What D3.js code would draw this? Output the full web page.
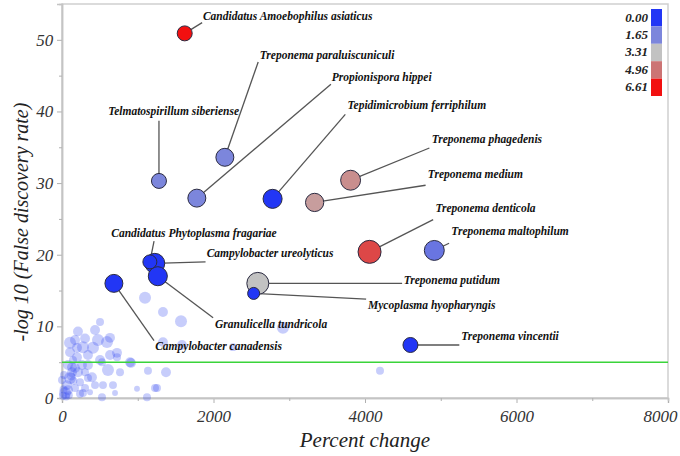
<!DOCTYPE html>
<html><head><meta charset="utf-8">
<script src="https://cdn.jsdelivr.net/npm/d3@7"></script>
<style>body{margin:0;background:#fff}svg{display:block}</style>
</head><body><svg id="c" width="680" height="456"></svg>
<script>
// ---- data ----
const names = ["Candidatus Amoebophilus asiaticus","Treponema paraluiscuniculi","Propionispora hippei","Telmatospirillum siberiense","Tepidimicrobium ferriphilum","Treponema phagedenis","Treponema medium","Treponema denticola","Treponema maltophilum","Candidatus Phytoplasma fragariae","Campylobacter ureolyticus","Granulicella tundricola","Campylobacter canadensis","Treponema putidum","Mycoplasma hyopharyngis","Treponema vincentii"];
const pctChange = [1620,2150,1780,1280,2780,3810,3335,4060,4915,1160,1225,1265,685,2585,2530,4600];
const negLogFdr = [50.9,33.6,27.9,30.3,27.8,30.4,27.3,20.4,20.6,19.0,18.8,17.0,16.0,16.0,14.6,7.4];
const colorVal = [6.61,1.65,1.65,1.65,0,4.4,4.1,5.7,1.3,0,0,0,0,3.31,0,0];
const sizeVal = [39,56,56,39,63,69,58,92,69,34,69,63,56,84,25,39];
// label anchor and leader end, in data units
const labelX = [1860,2610,3560,610,3770,4880,4830,4930,5140,650,1910,2020,1230,4510,4040,5270];
const labelY = [53.2,47.7,44.6,39.9,40.7,36.0,31.1,26.3,23.1,22.9,20.1,10.1,7.0,16.3,12.8,8.4];
const leadX = [1850,2590,3550,1280,3740,4850,4800,4900,5110,1215,1895,1995,1215,4490,4015,5245];
const leadY = [52.4,46.9,43.8,38.7,39.6,34.9,29.7,24.9,21.6,21.9,19.0,11.2,8.0,16.0,13.8,7.4];

// background (non-labelled) taxa
const bgX = [1096,1333,1571,502,211,106,277,409,594,634,726,1333,1584,2257,2917,911,607,1135,1373,1254,990,700,541,396,502,198,132,4198,436,343,673,1122,528,277,898,726,634,528,343,1228,172,475,343,766,
  40,66,106,132,172,26,79,172,238,211,264,304,145,106,13,238,304,370,436,79,0,198,304,55,90,150,20,120];
const bgY = [14.0,12.0,10.7,10.6,9.3,7.7,7.1,7.0,7.8,8.4,6.3,7.8,7.4,7.1,9.8,4.9,3.9,3.8,3.6,1.4,1.3,0.7,1.8,2.9,5.3,5.7,4.3,3.8,9.5,4.6,1.8,0.1,0.1,0.7,5.0,5.7,6.0,5.0,2.8,1.4,8.1,8.1,6.0,3.6,
  0.7,1.8,2.8,3.6,4.2,3.2,1.1,1.4,2.2,3.6,4.6,3.6,5.3,6.4,0.3,0.6,1.4,0.8,1.8,4.6,2.5,7.0,8.3,0.2,0.4,2.4,1.2,3.0];
const bgSize = [25,17,25,11,17,25,25,25,25,17,17,17,17,11,25,17,25,11,17,11,6,6,11,17,17,17,17,11,17,17,11,11,11,11,17,11,17,11,11,11,17,25,17,11,
  25,17,25,17,17,11,17,11,11,17,17,11,11,17,11,11,11,6,11,17,11,17,17,11,11,11,11,11];

const legendVals = [0.00,1.65,3.31,4.96,6.61];
const xTicks = [0,2000,4000,6000,8000];
const yTicks = [0,10,20,30,40,50];

// ---- chart ----
const svg = d3.select("#c");
const x = d3.scaleLinear().domain([0,8000]).range([62,668]);
const y = d3.scaleLinear().domain([0,55]).range([398,4]);
const r = d3.scaleSqrt().domain([0,100]).range([0,12]);
const col = d3.scaleLinear().domain(legendVals).range(["#2236f5","#7c86dc","#c2c2c2","#cc7474","#f21010"]);
const serif = "'Liberation Serif','Times New Roman',serif";

// frame
svg.append("rect").attr("x",62).attr("y",4).attr("width",606).attr("height",394)
  .attr("fill","none").attr("stroke","#cfcfcf").attr("stroke-width",1.5);

// axes
const xa = svg.append("g").attr("transform","translate(0,398)")
  .call(d3.axisBottom(x).tickValues(xTicks).tickSize(5).tickFormat(d3.format("d")));
const ya = svg.append("g").attr("transform","translate(62,0)")
  .call(d3.axisLeft(y).tickValues(yTicks).tickSize(5).tickFormat(d3.format("d")));
// minor ticks
svg.append("g").attr("transform","translate(0,398)")
  .call(d3.axisBottom(x).tickValues([1000,3000,5000,7000]).tickSize(3).tickFormat(""));
svg.append("g").attr("transform","translate(62,0)")
  .call(d3.axisLeft(y).tickValues([5,15,25,35,45]).tickSize(3).tickFormat(""));
svg.selectAll(".domain").attr("stroke","#c4c4c4").attr("stroke-width",1.5);
svg.selectAll(".tick line").attr("stroke","#b0b0b0");
xa.selectAll("text").attr("font-family",serif).attr("font-style","italic").attr("font-size",17).attr("fill","#333").attr("dy","0.95em")
  .filter(d=>d===8000).attr("text-anchor","end").attr("dx",9);
ya.selectAll("text").attr("font-family",serif).attr("font-style","italic").attr("font-size",17).attr("fill","#333").attr("dx","-0.05em");

// titles
svg.append("text").attr("x",365).attr("y",447).attr("text-anchor","middle")
  .attr("font-family",serif).attr("font-style","italic").attr("font-size",21).attr("fill","#222").text("Percent change");
svg.append("text").attr("transform","translate(28,222) rotate(-90)").attr("text-anchor","middle")
  .attr("font-family",serif).attr("font-style","italic").attr("font-size",20).attr("fill","#222").text("-log 10 (False discovery rate)");

// background points
const bg = d3.range(bgX.length).map(i=>({x:bgX[i],y:bgY[i],s:bgSize[i]}));
svg.append("g").selectAll("circle").data(bg).join("circle")
  .attr("cx",d=>x(d.x)).attr("cy",d=>y(d.y)).attr("r",d=>r(d.s))
  .attr("fill","#3048f0").attr("fill-opacity",0.27);

// threshold line
svg.append("line").attr("x1",x(0)).attr("x2",x(8000)).attr("y1",y(5)).attr("y2",y(5))
  .attr("stroke","#3ad43a").attr("stroke-width",1.6);

// highlighted points
const pts = names.map((n,i)=>({n,x:pctChange[i],y:negLogFdr[i],c:colorVal[i],s:sizeVal[i],lx:labelX[i],ly:labelY[i],ex:leadX[i],ey:leadY[i]}));
svg.append("g").selectAll("line").data(pts).join("line")
  .attr("x1",d=>x(d.x)).attr("y1",d=>y(d.y)).attr("x2",d=>x(d.ex)).attr("y2",d=>y(d.ey))
  .attr("stroke","#555").attr("stroke-width",1.3);
const order = pts.slice().sort((a,b)=>b.s-a.s);
svg.append("g").selectAll("circle").data(order).join("circle")
  .attr("cx",d=>x(d.x)).attr("cy",d=>y(d.y)).attr("r",d=>r(d.s))
  .attr("fill",d=>col(d.c)).attr("stroke","#2a2a40").attr("stroke-width",1);
svg.append("g").selectAll("text").data(pts).join("text")
  .attr("x",d=>x(d.lx)).attr("y",d=>y(d.ly)).attr("dominant-baseline","middle")
  .attr("font-family",serif).attr("font-style","italic").attr("font-weight","bold")
  .attr("font-size",11.5).attr("fill","#111").text(d=>d.n);

// legend
const lg = svg.append("g");
const sh = 17.4;
lg.selectAll("rect").data(legendVals).join("rect")
  .attr("x",651).attr("y",(d,i)=>9+i*sh).attr("width",11).attr("height",sh)
  .attr("fill",d=>col(d));
lg.selectAll("text").data(legendVals).join("text")
  .attr("x",648).attr("y",(d,i)=>9+i*sh+sh/2+1).attr("text-anchor","end").attr("dominant-baseline","middle")
  .attr("font-family",serif).attr("font-style","italic").attr("font-weight","bold").attr("font-size",13).attr("fill","#222")
  .text(d=>d.toFixed(2));
</script></body></html>
